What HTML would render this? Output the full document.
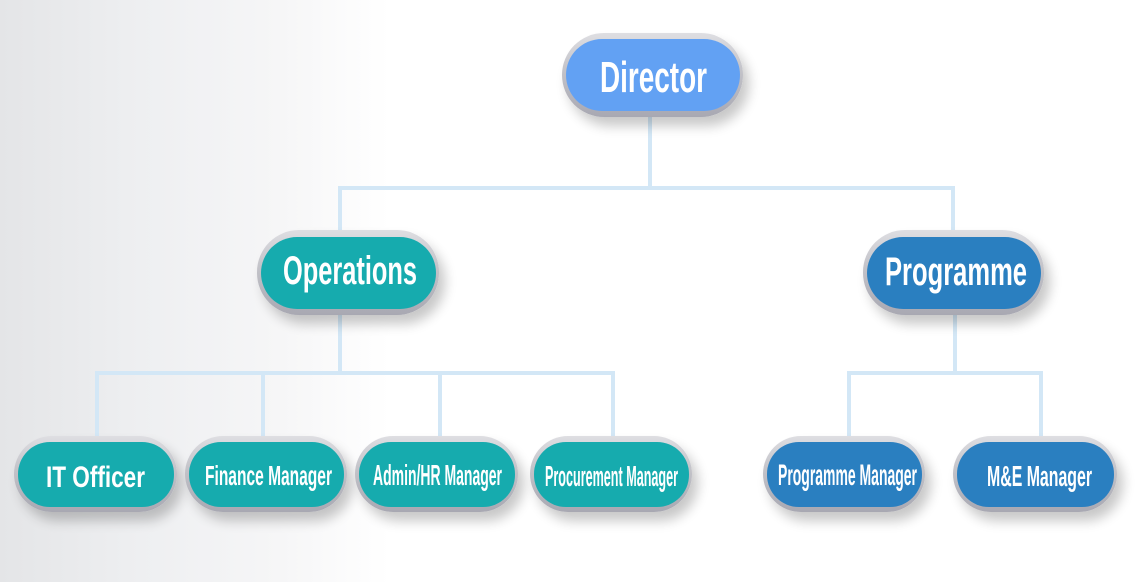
<!DOCTYPE html>
<html><head><meta charset="utf-8">
<style>
html,body{margin:0;padding:0;}
body{width:1144px;height:582px;overflow:hidden;background:linear-gradient(90deg,#e4e5e7 0px,#eeeff1 140px,#f6f6f7 280px,#ffffff 390px,#ffffff 1144px);}
svg{display:block;}
text{font-family:"Liberation Sans",Arial,sans-serif;font-weight:bold;fill:#ffffff;}
</style></head>
<body>
<svg width="1144" height="582" viewBox="0 0 1144 582" xmlns="http://www.w3.org/2000/svg">
<defs>
  <linearGradient id="ring" x1="0" y1="0" x2="0" y2="1">
    <stop offset="0" stop-color="#dedee2"/>
    <stop offset="0.45" stop-color="#c2c2c8"/>
    <stop offset="1" stop-color="#a8a8b2"/>
  </linearGradient>
  <filter id="sh" x="-20%" y="-30%" width="150%" height="170%">
    <feGaussianBlur in="SourceAlpha" stdDeviation="6"/>
    <feOffset dx="6" dy="9" result="b"/>
    <feComponentTransfer><feFuncA type="linear" slope="0.22"/></feComponentTransfer>
    <feMerge><feMergeNode/><feMergeNode in="SourceGraphic"/></feMerge>
  </filter>
</defs>

<!-- connectors -->
<g fill="#d3e7f6">
  <rect x="648" y="112" width="4" height="76"/>
  <rect x="338" y="186" width="617" height="4"/>
  <rect x="338" y="186" width="4" height="48"/>
  <rect x="951" y="186" width="4" height="48"/>
  <rect x="338" y="310" width="4" height="65"/>
  <rect x="95" y="371" width="520" height="4"/>
  <rect x="95" y="371" width="4" height="68"/>
  <rect x="261" y="371" width="4" height="68"/>
  <rect x="438" y="371" width="4" height="68"/>
  <rect x="611" y="371" width="4" height="68"/>
  <rect x="953" y="310" width="4" height="65"/>
  <rect x="847" y="371" width="196" height="4"/>
  <rect x="847" y="371" width="4" height="68"/>
  <rect x="1039" y="371" width="4" height="68"/>
</g>

<!-- Director -->
<g filter="url(#sh)">
  <rect x="562" y="33" width="181" height="84" rx="42" fill="url(#ring)"/>
  <rect x="566" y="39" width="174" height="72" rx="36" fill="#62a1f3"/>
</g>
<text x="600" y="92" font-size="44" textLength="107" lengthAdjust="spacingAndGlyphs">Director</text>

<!-- Operations -->
<g filter="url(#sh)">
  <rect x="257" y="230" width="182" height="85" rx="42" fill="url(#ring)"/>
  <rect x="261" y="237" width="175" height="72" rx="36" fill="#19abae"/>
</g>
<text x="283" y="284" font-size="40" textLength="134" lengthAdjust="spacingAndGlyphs">Operations</text>

<!-- Programme -->
<g filter="url(#sh)">
  <rect x="863" y="230" width="181" height="85" rx="42" fill="url(#ring)"/>
  <rect x="867" y="237" width="174" height="72" rx="36" fill="#2c7fc0"/>
</g>
<text x="885" y="285" font-size="40" textLength="142" lengthAdjust="spacingAndGlyphs">Programme</text>

<!-- bottom row -->
<g filter="url(#sh)">
  <rect x="14" y="436" width="163" height="76" rx="38" fill="url(#ring)"/>
  <rect x="18" y="442" width="156" height="65" rx="32" fill="#19abae"/>
</g>
<text x="46" y="487" font-size="30" textLength="99" lengthAdjust="spacingAndGlyphs">IT Officer</text>

<g filter="url(#sh)">
  <rect x="185" y="436" width="162" height="76" rx="38" fill="url(#ring)"/>
  <rect x="189" y="442" width="155" height="65" rx="32" fill="#19abae"/>
</g>
<text x="205" y="485" font-size="28" textLength="127" lengthAdjust="spacingAndGlyphs">Finance Manager</text>

<g filter="url(#sh)">
  <rect x="355" y="436" width="163" height="76" rx="38" fill="url(#ring)"/>
  <rect x="359" y="442" width="156" height="65" rx="32" fill="#19abae"/>
</g>
<text x="373" y="485" font-size="29" textLength="129" lengthAdjust="spacingAndGlyphs">Admin/HR Manager</text>

<g filter="url(#sh)">
  <rect x="530" y="436" width="162" height="76" rx="38" fill="url(#ring)"/>
  <rect x="534" y="442" width="155" height="65" rx="32" fill="#19abae"/>
</g>
<text x="545" y="486" font-size="29" textLength="133" lengthAdjust="spacingAndGlyphs">Procurement Manager</text>

<g filter="url(#sh)">
  <rect x="763" y="436" width="162" height="76" rx="38" fill="url(#ring)"/>
  <rect x="767" y="442" width="155" height="65" rx="32" fill="#2c7fc0"/>
</g>
<text x="778" y="485" font-size="30" textLength="139" lengthAdjust="spacingAndGlyphs">Programme Manager</text>

<g filter="url(#sh)">
  <rect x="953" y="436" width="164" height="76" rx="38" fill="url(#ring)"/>
  <rect x="957" y="442" width="157" height="65" rx="32" fill="#2c7fc0"/>
</g>
<text x="987" y="486" font-size="29" textLength="105" lengthAdjust="spacingAndGlyphs">M&amp;E Manager</text>
</svg>
</body></html>
